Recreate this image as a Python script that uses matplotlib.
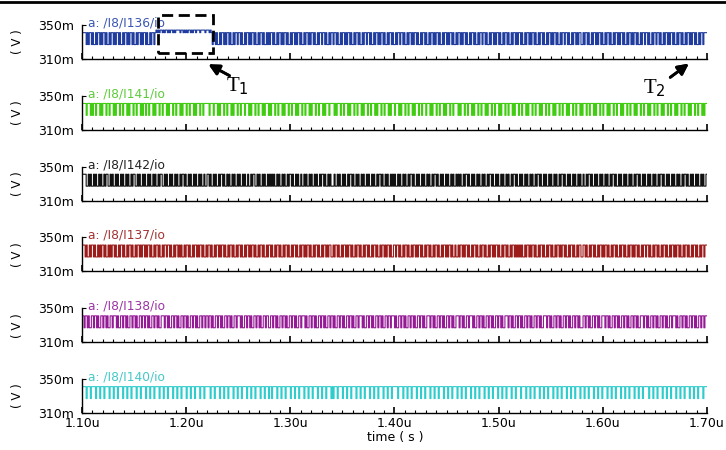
import numpy as np
import matplotlib
matplotlib.use("Agg")
import matplotlib.pyplot as plt
from matplotlib.patches import Rectangle
from matplotlib.lines import Line2D

# sygnaly (1 znak = 1 slot czasu, 0 = stan niski, 1 = wysoki, 2 = podwyzszony)
names = ["a: /I8/I136/io", "a: /I8/I141/io", "a: /I8/I142/io",
         "a: /I8/I137/io", "a: /I8/I138/io", "a: /I8/I140/io"]
colors = ["#1f3c9e", "#40cc10", "#111111", "#9c1c1c", "#951a95", "#2ecccc"]
title_colors = ["#3a56b4", "#5ccc3a", "#222222", "#a33333", "#9a35a5", "#45c8c8"]

blue_bits = (
    "111101011010010110101101001011010110100101101011010010110101"
    "101001011012121221212212122121222212212121221212212221222212"
    "221210110100101101011010010110110100101101011010010110100101"
    "011010010110101101001011010110100101101011010010110110100101"
    "101101001011010110100101101001011011010010110101101001011010"
    "010110110100101101011010010110100101101011010010110101101001"
    "011010110100101101001011011010010110101101001011010010110101"
    "101001011010110100101101001011010110100101101101001011010110"
    "010110100101101011010010110100101101011010010110101101001011"
    "011010010110110100101101011010010110100101101011010010110111"
)
green_bits = (
    "111101110101101110101110110111010111011011101011101101110101"
    "101101110101110110111010111011011101011101101110101110110111"
    "110111011101011101101110101110110111011101011101101110101110"
    "101110110111010111011011101011101101110101110110111010111011"
    "110101110110111010111011011101011101101110101110110111010111"
    "011101011101101110101110110111011101011101101110101110110111"
    "101011101101110101110110111010111011011101011101101110101110"
    "110111010111011011101011101101110101110110111010111011011101"
    "011101101110101110110111010111011011101011101101110101110110"
    "111010111011011101011101101110101110110111010111011011101011"
)
black_bits = (
    "111100101001010010100101100101001010010100101001011001010010"
    "100101001010010110010100101001010010110100101001010010100100"
    "110100101001011010010100101001010010100100101100101001010010"
    "101010010100101001011010010100100101001010010100101101001010"
    "001001010010100101101001010010100101001010010110100101001010"
    "100101001010010110100101001010010100101101001010010100101001"
    "010100101101001010010100101001011010010100101001010010110100"
    "101001010010100101101001010010100101001011010010100101001010"
    "010010110100101001010010100101101001010010100101001011010010"
    "100101001010010110100101001010010100101101001010010100101001"
)
red_bits = (
    "111010010110100101011010010101101001011010010110100101101011"
    "010110100101101001011011010010110101001011010010110101101001"
    "011010010110101101001011010010110100101101011010010110100101"
    "101001011010010110100101101001011010110100101101001011010110"
    "010110100101101011010010110100101101001011010010110101101001"
    "101101001011010010110101101001011010010110100101101011010010"
    "010110101101001011010010110100101101011010010110100101101010"
    "101001011010110100101101001011010010110101101001011010010110"
    "011010010110100101101011010010110100101101001011010110100101"
    "101101001011010010110100101101011010010110100101101001011011"
)
purple_bits = (
    "110110100110110100110110100110111010011011010011011010011011"
    "011010011011010011101101001101101001101101001101101001101101"
    "101101001101101001101101001101110100110110100110110100110110"
    "011011010011011010011011010011011101001101101001101101001101"
    "101001101101001101101001101110100110110100110110100110110111"
    "010011011010011011010011011010011101101001101101001101101001"
    "110110100110111010011011010011011010011011010011101101001101"
    "101001101101001101101001110110100110110100110110100110110100"
    "011011010011011010011101101001101101001101101001101101001110"
    "110100110110100110110100110111010011011010011011010011011011"
)
cyan_bits = (
    "111101110111101110111011110111011101111011101110111101110111"
    "101110111011110111011101111011101110111101110111011110111011"
    "111011101111011101110111101110111011110111011101111011101110"
    "110111101110111011110111011101111011101110111101110111011110"
    "101110111101110111011110111011101111011101110111101110111011"
    "111011110111011101111011101110111101110111011110111011101111"
    "011101110111101110111011110111011101111011101110111101110111"
    "101111011101110111101110111011110111011101111011101110111101"
    "110111011110111011101111011101110111101110111011110111011101"
    "111101110111011110111011101111011101110111101110111011110111"
)
signals = [blue_bits, green_bits, black_bits, red_bits, purple_bits, cyan_bits]

levels_v = {"0": 0.327, "1": 0.341, "2": 0.344}  # napiecie dla stanu
t_start, t_end = 1.10, 1.70  # us
xtick_vals = [1.10, 1.20, 1.30, 1.40, 1.50, 1.60, 1.70]
xtick_labels = ["1.10u", "1.20u", "1.30u", "1.40u", "1.50u", "1.60u", "1.70u"]
ytick_vals = [0.310, 0.350]
ytick_labels = ["310m", "350m"]

W, H = 726, 450
fig = plt.figure(figsize=(W / 100, H / 100), dpi=100)
plt.rcParams["font.family"] = "DejaVu Sans"


def fx(x):
    return x / W


def fy(y):
    return 1 - y / H


ax_left, ax_right = 82, 707
pitch = 70.8
axes = []
for i, bits in enumerate(signals):
    bottom_px = 59 + pitch * i
    ax = fig.add_axes([fx(ax_left), fy(bottom_px), (ax_right - ax_left) / W, 34 / H])
    vals = np.array([levels_v[c] for c in bits])
    t = np.linspace(t_start, t_end, len(vals) + 1)
    ax.plot(t, np.append(vals, vals[-1]), drawstyle="steps-post",
            color=colors[i], linewidth=0.8)
    ax.set_xlim(t_start, t_end)
    ax.set_ylim(0.310, 0.350)
    for s in ["top", "right"]:
        ax.spines[s].set_visible(False)
    ax.spines["left"].set_linewidth(1.0)
    ax.spines["bottom"].set_linewidth(1.0)
    ax.set_yticks(ytick_vals)
    ax.set_yticklabels(ytick_labels, fontsize=9)
    ax.tick_params(axis="y", direction="in", length=3, pad=6)
    ax.set_xticks(xtick_vals)
    ax.set_xticks(np.round(np.arange(t_start, t_end + 0.001, 0.01), 2), minor=True)
    ax.tick_params(axis="x", which="major", direction="in", length=4, width=1.2)
    ax.tick_params(axis="x", which="minor", direction="in", length=2.5, width=0.8)
    if i == len(signals) - 1:
        ax.set_xticklabels(xtick_labels, fontsize=9)
        ax.tick_params(axis="x", pad=3)
    else:
        ax.set_xticklabels([])
    ax.text(0.01, 1.06, names[i], transform=ax.transAxes, fontsize=8.8,
            color=title_colors[i], va="center", ha="left")
    fig.text(fx(18), fy(bottom_px - 17), "( V )", rotation=90, fontsize=8.5,
             ha="center", va="center")
    axes.append(ax)

fig.text(fx(395), fy(438), "time ( s )", fontsize=9, ha="center", va="center")

# ramka u gory
fig.add_artist(Line2D([0, 1], [fy(1.5), fy(1.5)], color="black", linewidth=2,
                      transform=fig.transFigure))

# zaznaczenie T1 (przerywany prostokat)
fig.add_artist(Rectangle((fx(158), fy(53)), (213 - 158) / W, (53 - 15) / H,
                         fill=False, edgecolor="black", linewidth=2,
                         linestyle=(0, (4, 2)), transform=fig.transFigure))

arrow = dict(arrowstyle="-|>", color="black", lw=2, mutation_scale=16)
fig.add_artist(plt.annotate("", xy=(fx(206), fy(63)), xytext=(fx(232), fy(77)),
                            xycoords="figure fraction", textcoords="figure fraction",
                            arrowprops=arrow))
fig.add_artist(plt.annotate("", xy=(fx(691), fy(62)), xytext=(fx(668), fy(79)),
                            xycoords="figure fraction", textcoords="figure fraction",
                            arrowprops=arrow))
fig.text(fx(226), fy(86), "T$_1$", fontsize=15, family="Liberation Serif",
         ha="left", va="center")
fig.text(fx(643), fy(88), "T$_2$", fontsize=15, family="Liberation Serif",
         ha="left", va="center")

fig.savefig("out.png", dpi=100)
